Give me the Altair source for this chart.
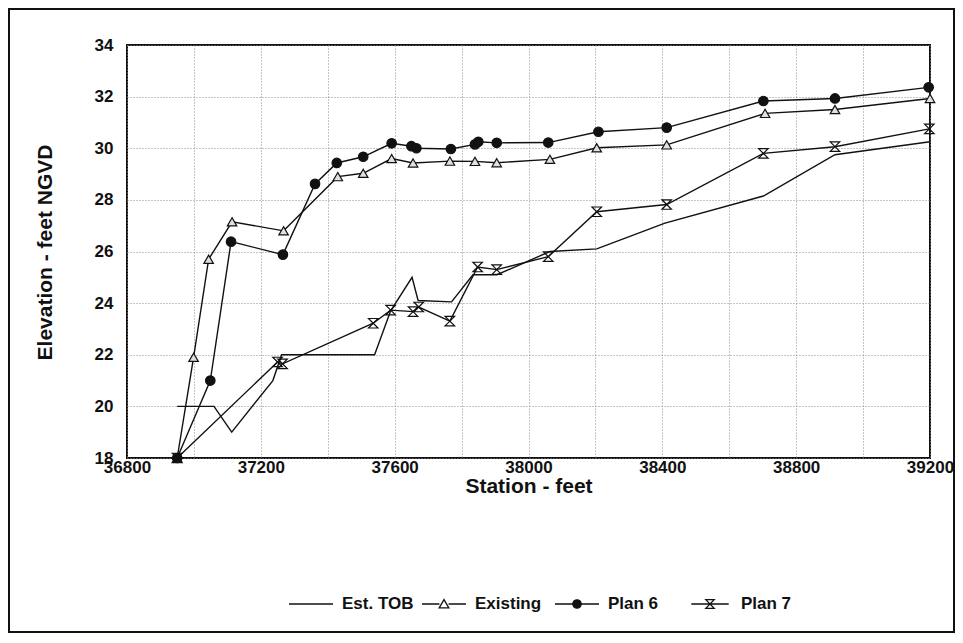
import altair as alt
import pandas as pd

series_names = ["Est. TOB", "Existing", "Plan 6", "Plan 7"]

est_x = [36950, 37060, 37113, 37236, 37262, 37540, 37588, 37652, 37670, 37770,
         37834, 37906, 38064, 38204, 38408, 38702, 38916, 39200]
est_y = [20.0, 20.0, 19.0, 21.0, 22.0, 22.0, 23.7, 25.0, 24.1, 24.05,
         25.1, 25.1, 26.0, 26.1, 27.1, 28.15, 29.75, 30.25]

existing_x = [36950, 36999, 37044, 37114, 37268, 37430, 37506, 37591, 37655, 37765,
              37840, 37905, 38064, 38204, 38413, 38707, 38916, 39200]
existing_y = [18.0, 21.9, 25.7, 27.15, 26.8, 28.9, 29.03, 29.6, 29.43, 29.5,
              29.49, 29.44, 29.57, 30.02, 30.13, 31.35, 31.5, 31.93]

plan6_x = [36950, 37049, 37111, 37266, 37362, 37427, 37506, 37591, 37650, 37665,
           37768, 37840, 37850, 37905, 38059, 38209, 38413, 38702, 38916, 39196]
plan6_y = [18.0, 21.0, 26.38, 25.88, 28.62, 29.43, 29.67, 30.19, 30.08, 30.0,
           29.97, 30.15, 30.25, 30.21, 30.22, 30.64, 30.8, 31.83, 31.93, 32.36]

plan7_x = [36950, 37250, 37265, 37536, 37588, 37655, 37672, 37765, 37848, 37905,
           38059, 38204, 38413, 38702, 38916, 39198]
plan7_y = [18.0, 21.72, 21.65, 23.22, 23.73, 23.67, 23.85, 23.3, 25.4, 25.3,
           25.8, 27.54, 27.82, 29.8, 30.06, 30.75]

x_ticks = list(range(36800, 39201, 100))
y_ticks = list(range(18, 35, 1))

rows = []
for name, xs, ys in [("Est. TOB", est_x, est_y), ("Existing", existing_x, existing_y),
                     ("Plan 6", plan6_x, plan6_y), ("Plan 7", plan7_x, plan7_y)]:
    for i, (xv, yv) in enumerate(zip(xs, ys)):
        rows.append({"series": name, "station": xv, "elevation": yv, "order": i})
df = pd.DataFrame(rows)

FONT = "Liberation Sans"
INK = "#111111"

x_enc = alt.X(
    "station:Q",
    scale=alt.Scale(domain=[36800, 39200], nice=False, zero=False),
    axis=alt.Axis(
        values=x_ticks, format="d",
        labelExpr="datum.value % 400 == 0 ? datum.label : ''",
        title="Station - feet", titlePadding=0,
        labelPadding=1, ticks=False, domain=False,
        labelOverlap=False, labelFlush=False,
        grid=True, gridDash=[1, 2], gridColor="#8c8c8c", gridWidth=1,
    ),
)
y_enc = alt.Y(
    "elevation:Q",
    scale=alt.Scale(domain=[18, 34], nice=False, zero=False),
    axis=alt.Axis(
        values=y_ticks, format="d",
        labelExpr="datum.value % 2 == 0 ? datum.label : ''",
        title="Elevation - feet NGVD",
        titleX=-82, titleY=207, titleAngle=270, titleAlign="center", titleBaseline="middle",
        labelPadding=14, ticks=False, domain=False,
        labelOverlap=False, labelFlush=False,
        grid=True, gridDash=[1, 2], gridColor="#8c8c8c", gridWidth=1,
    ),
)

base = alt.Chart(df)

lines = base.mark_line(color=INK, strokeWidth=1.4).encode(
    x=x_enc, y=y_enc, detail="series:N", order="order:Q"
)

hourglass = "M-1,-1H1L-1,1H1Z"
pts = base.transform_filter("datum.series != 'Est. TOB'").mark_point(
    stroke=INK, strokeWidth=1.2, opacity=1, size=90
).encode(
    x=alt.X("station:Q"), y=alt.Y("elevation:Q"),
    shape=alt.Shape("series:N", scale=alt.Scale(domain=["Existing", "Plan 6", "Plan 7"],
                                               range=["triangle-up", "circle", hourglass]),
                    legend=None),
    fill=alt.Fill("series:N", scale=alt.Scale(domain=["Existing", "Plan 6", "Plan 7"],
                                             range=["#e0e0e0", INK, "transparent"]),
                  legend=None),
)

legend_paths = [
    "M-1,0H1",
    "M-1,0H-0.21M0.21,0H1M0,-0.2L0.22,0.18H-0.22Z",
    "M-1,0H1M0.19,0A0.19,0.19,0,1,1,-0.19,0A0.19,0.19,0,1,1,0.19,0Z",
    "M-0.85,0H0.85M-0.19,-0.2H0.19L-0.19,0.2H0.19Z",
]
legend_fills = ["transparent", "#ffffff", INK, "transparent"]
legend_strokes = [INK, INK, INK, INK]
leg = alt.Legend(
    title=None, orient="none", legendX=161, legendY=536, direction="horizontal",
    gridAlign="all",
    symbolSize=1936, symbolStrokeWidth=1.3, symbolOpacity=1,
    labelFont=FONT, labelFontSize=17, labelFontWeight="bold", labelColor=INK,
    labelOffset=8, columnPadding=5, padding=0,
)
legend_layer = base.transform_filter("false").mark_point(
    strokeWidth=1.3, opacity=1
).encode(
    shape=alt.Shape("series:N", scale=alt.Scale(domain=series_names, range=legend_paths), legend=leg),
    fill=alt.Fill("series:N", scale=alt.Scale(domain=series_names, range=legend_fills), legend=leg),
    stroke=alt.Stroke("series:N", scale=alt.Scale(domain=series_names, range=legend_strokes), legend=leg),
)

frame = alt.Chart(pd.DataFrame({"k": [0]})).mark_rect(
    fill="transparent", stroke=INK, strokeWidth=2
).encode(
    x=alt.value(-118), x2=alt.value(827), y=alt.value(-36), y2=alt.value(587)
)

chart = alt.layer(frame, lines, pts, legend_layer).resolve_scale(
    shape="independent", fill="independent", stroke="independent"
).properties(
    width=803, height=413,
    padding={"left": 119, "top": 37, "right": 25, "bottom": 175},
    autosize=alt.AutoSizeParams(type="none"),
    background="white",
).configure_view(
    stroke=INK, strokeWidth=2
).configure_axis(
    labelFont=FONT, labelFontSize=17, labelFontWeight="bold", labelColor=INK,
    titleFont=FONT, titleFontSize=21, titleFontWeight="bold", titleColor=INK,
)

chart.save("out.html", embed_options={"renderer": "svg", "actions": False})
